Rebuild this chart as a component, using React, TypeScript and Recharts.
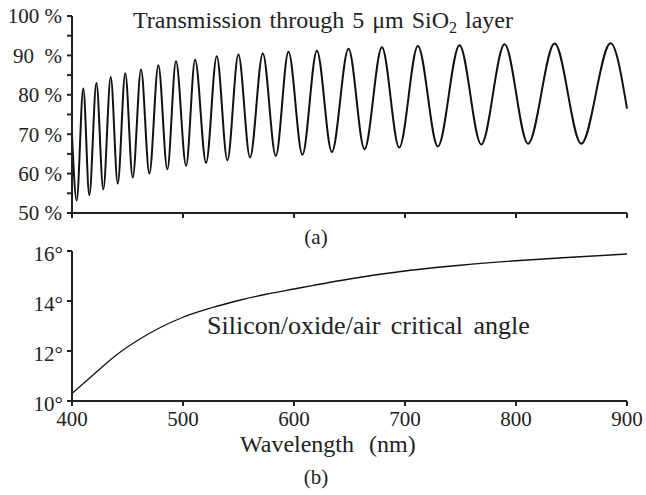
import { Line, LineChart, XAxis, YAxis } from "recharts";

// Panel (a): fringe maxima and minima of the transmission curve
const startNm = 400;
const startTrans = 70;
const peakNm = [410.2, 422.0, 434.9, 448.0, 462.2, 477.8, 493.7, 510.9, 530.4, 549.9, 571.9, 595.0, 620.6, 649.1, 679.2, 711.6, 749.1, 789.7, 834.8, 885.2];
const peakTrans = [81.6, 83.0, 84.5, 85.5, 86.4, 87.5, 88.5, 88.9, 89.8, 90.2, 90.5, 90.9, 91.2, 91.7, 92.1, 92.4, 92.6, 92.8, 93.0, 93.1];
const troughNm = [404.2, 415.6, 428.2, 441.2, 454.7, 469.7, 485.9, 502.8, 520.8, 540.0, 560.4, 583.6, 607.6, 634.1, 663.5, 694.8, 729.6, 768.7, 810.8, 858.8];
const troughTrans = [53.2, 54.5, 56.0, 57.5, 59.0, 60.0, 61.1, 62.0, 62.7, 63.4, 64.1, 64.5, 64.8, 65.5, 66.2, 66.6, 66.9, 67.4, 67.6, 67.6];
const endNm = 900;
const endTrans = 76.5;

// Panel (b): critical angle
const angleNm = [400, 420, 440, 460, 480, 500, 525, 550, 575, 600, 650, 700, 750, 800, 850, 900];
const angleDeg = [10.3, 11.08, 11.84, 12.45, 12.95, 13.35, 13.72, 14.02, 14.27, 14.48, 14.88, 15.2, 15.43, 15.61, 15.75, 15.88];

// Axis ticks
const nmTicks = [400, 500, 600, 700, 800, 900];
const transTicks = [50, 55, 60, 65, 70, 75, 80, 85, 90, 95, 100];
const transMajor = [50, 60, 70, 80, 90, 100];
const transLabels = ["50 %", "60 %", "70 %", "80 %", "90\u00a0\u00a0%", "100 %"];
const angleTicks = [10, 12, 14, 16];
const angleLabels = ["10°", "12°", "14°", "16°"];

const transmission = [
  { nm: startNm, t: startTrans },
  ...peakNm.map((nm, i) => ({ nm, t: peakTrans[i] })),
  ...troughNm.map((nm, i) => ({ nm, t: troughTrans[i] })),
  { nm: endNm, t: endTrans },
].sort((a, b) => a.nm - b.nm);

const critical = angleNm.map((nm, i) => ({ nm, deg: angleDeg[i] }));

const ink = "#222";
const axisStyle = { stroke: ink, strokeWidth: 2 };
const tickFont = { fontSize: 21, fill: ink };

export default function App() {
  return (
    <div
      style={{
        position: "absolute",
        left: 0,
        top: 0,
        width: 646,
        height: 495,
        background: "#fff",
        fontFamily: "'Liberation Serif', 'Times New Roman', serif",
      }}
    >
      <div style={{ position: "absolute", left: 0, top: 0 }}>
        <LineChart width={646} height={230} data={transmission} margin={{ top: 16, right: 19, bottom: 7, left: 12 }}>
          <XAxis
            type="number"
            dataKey="nm"
            domain={[400, 900]}
            ticks={nmTicks}
            tickFormatter={() => ""}
            height={10}
            axisLine={axisStyle}
            tickLine={axisStyle}
            tickSize={5}
          />
          <YAxis
            type="number"
            domain={[50, 100]}
            ticks={transTicks}
            interval={0}
            tickFormatter={(v: number) => {
              const i = transMajor.indexOf(v);
              return i >= 0 ? transLabels[i] : "";
            }}
            width={60}
            axisLine={axisStyle}
            tickLine={axisStyle}
            tickSize={5}
            tickMargin={5}
            tick={tickFont}
          />
          <Line
            type="monotone"
            dataKey="t"
            stroke="#111"
            strokeWidth={2}
            dot={false}
            isAnimationActive={false}
          />
        </LineChart>
      </div>

      <div style={{ position: "absolute", left: 0, top: 230 }}>
        <LineChart width={646} height={265} data={critical} margin={{ top: 21, right: 19, bottom: 64, left: 12 }}>
          <XAxis
            type="number"
            dataKey="nm"
            domain={[400, 900]}
            ticks={nmTicks}
            interval={0}
            height={30}
            axisLine={axisStyle}
            tickLine={axisStyle}
            tickSize={5}
            tickMargin={5}
            tick={tickFont}
          />
          <YAxis
            type="number"
            domain={[10, 16]}
            ticks={angleTicks}
            interval={0}
            tickFormatter={(v: number) => angleLabels[angleTicks.indexOf(v)]}
            width={60}
            axisLine={axisStyle}
            tickLine={axisStyle}
            tickSize={5}
            tickMargin={4}
            tick={{ ...tickFont, dy: 3 }}
          />
          <Line
            type="monotone"
            dataKey="deg"
            stroke="#111"
            strokeWidth={1.3}
            dot={false}
            isAnimationActive={false}
          />
        </LineChart>
      </div>

      <svg width={646} height={495} style={{ position: "absolute", left: 0, top: 0, pointerEvents: "none" }}>
        <g fill={ink}>
          <text x={133} y={28} fontSize={24} style={{ wordSpacing: 2 }}>
            <tspan>Transmission through 5 μm SiO</tspan>
            <tspan fontSize={16} dy={5}>2</tspan>
            <tspan dy={-5}> layer</tspan>
          </text>
          <text x={316} y={244} fontSize={21} textAnchor="middle">(a)</text>
          <text x={207} y={334} fontSize={26} style={{ wordSpacing: 4 }}>Silicon/oxide/air critical angle</text>
          <text x={240} y={452} fontSize={24} style={{ wordSpacing: 9 }}>Wavelength (nm)</text>
          <text x={316} y={484} fontSize={21} textAnchor="middle">(b)</text>
        </g>
      </svg>
    </div>
  );
}
